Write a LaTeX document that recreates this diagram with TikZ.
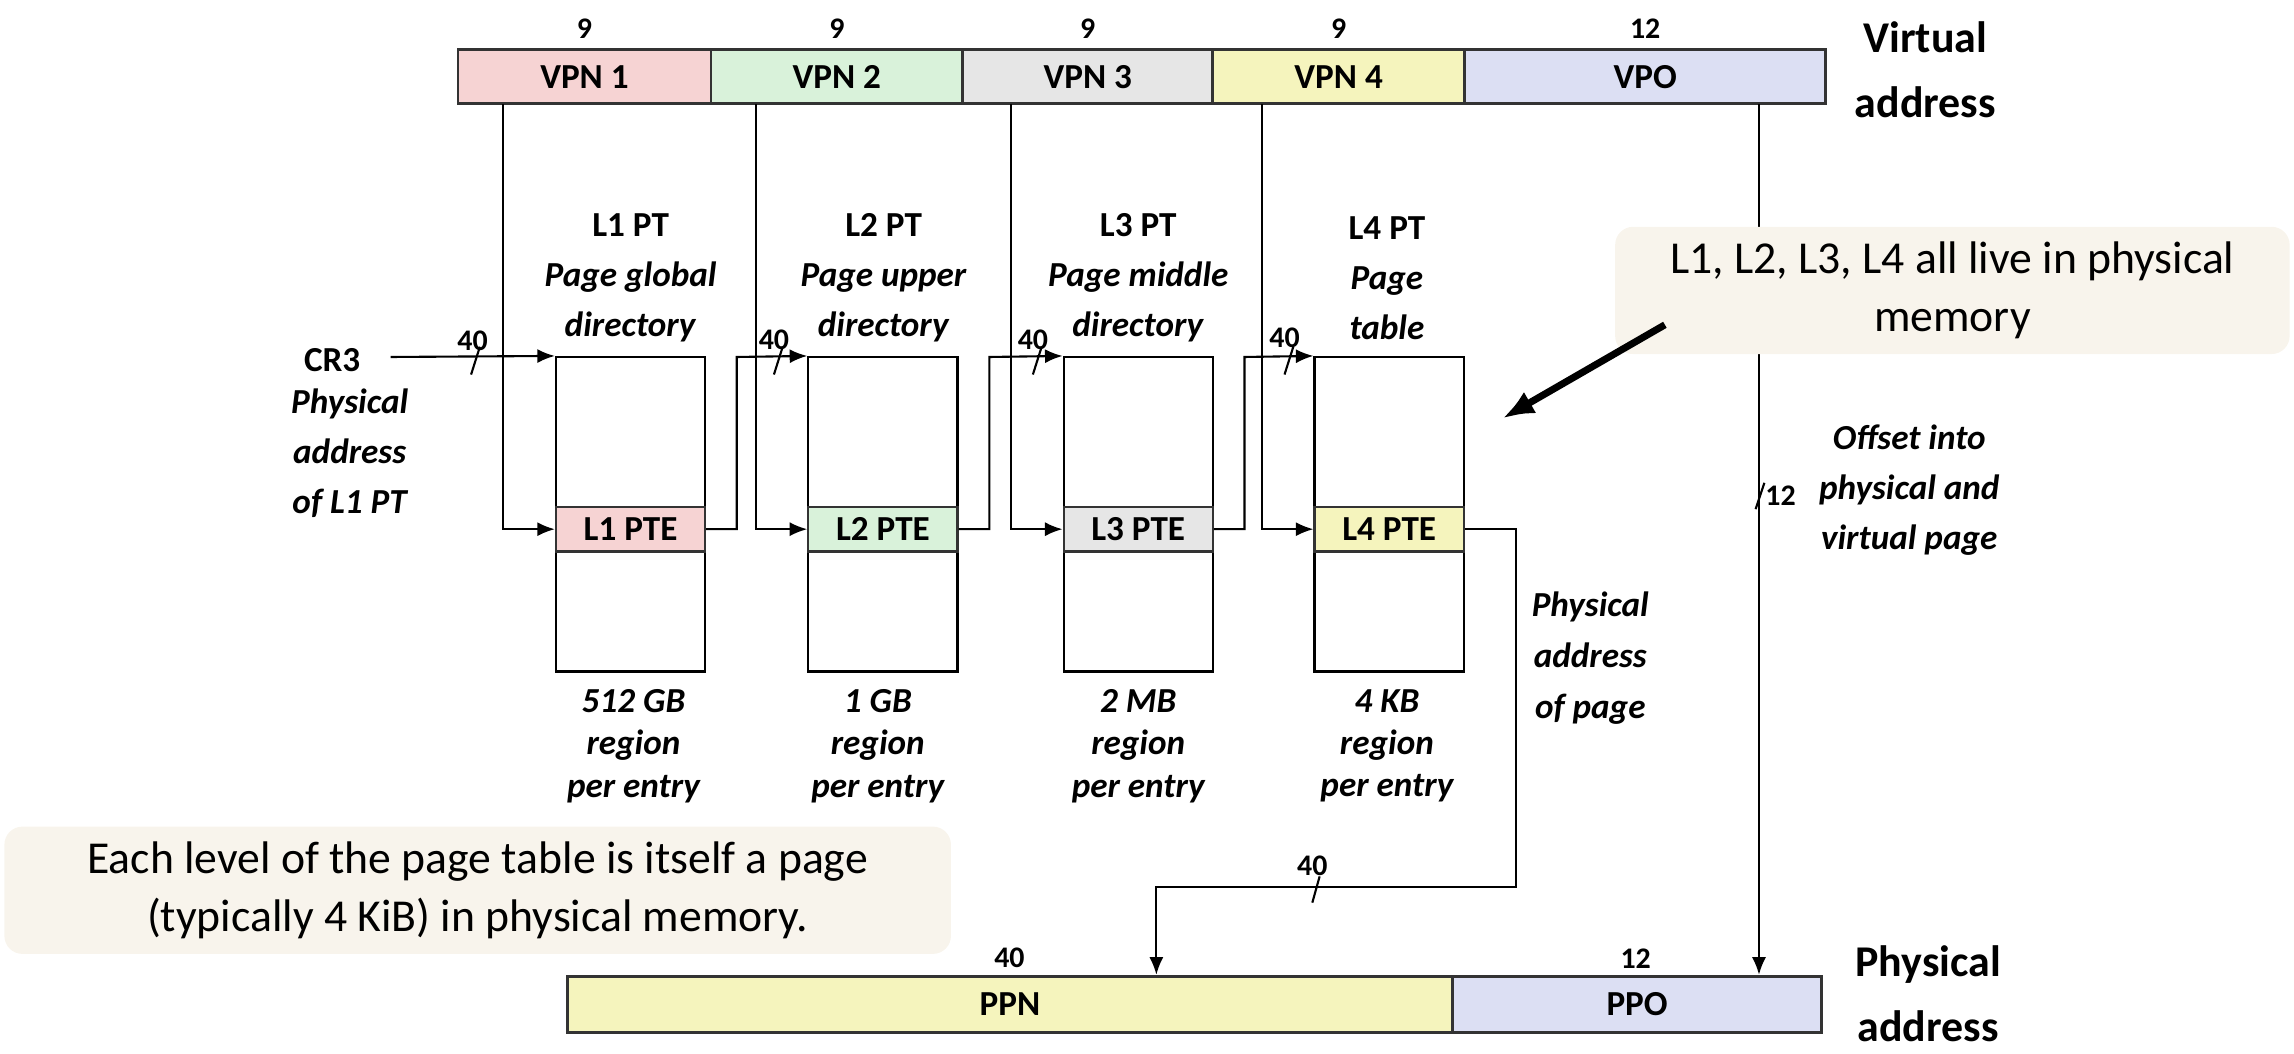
\documentclass[tikz,border=0pt]{standalone}
\usepackage{fontspec}
\setmainfont{Carlito}
\usepackage{tikz}
\usetikzlibrary{calc}
\usetikzlibrary{arrows.meta}
\usetikzlibrary{positioning}

\newlength{\pxu}
\setlength{\pxu}{0.1463mm}

\definecolor{pinkfill}{HTML}{F6D3D3}
\definecolor{greenfill}{HTML}{D9F2DA}
\definecolor{grayfill}{HTML}{E6E6E6}
\definecolor{yellowfill}{HTML}{F5F4BD}
\definecolor{bluefill}{HTML}{DCDFF3}
\definecolor{notefill}{HTML}{F8F4EC}

\tikzset{
 field/.style={rectangle, draw=black!80, line width=0.8pt, inner sep=0pt, minimum height=37\pxu, font=\fontsize{10}{12}\selectfont\bfseries},
 table/.style={rectangle, draw=black, line width=0.6pt, inner sep=0pt, minimum width=102\pxu, minimum height=215\pxu},
 pte/.style={rectangle, draw=black!80, line width=0.6pt, inner sep=0pt, minimum width=102\pxu, minimum height=30.5\pxu, font=\fontsize{10}{12}\selectfont\bfseries},
 bits/.style={inner sep=0pt, font=\fontsize{8.5}{10}\selectfont\bfseries},
 lbl/.style={inner sep=0pt, align=center, font=\fontsize{10}{14.2}\selectfont\bfseries},
 region/.style={inner sep=0pt, align=center, font=\fontsize{10}{12}\selectfont\bfseries\itshape},
 title/.style={inner sep=0pt, align=center, font=\fontsize{12.5}{18.5}\selectfont\bfseries},
 note/.style={rectangle, rounded corners=1.8mm, fill=notefill, inner sep=0pt, align=center, font=\fontsize{13}{16.6}\selectfont},
 wire/.style={line width=0.6pt},
 tip/.style={-{Latex[length=5pt, width=4pt]}},
}

\begin{document}
\begin{tikzpicture}[x=0.1463mm, y=-0.1463mm]
 \useasboundingbox (0,0) rectangle (1568,720);

 % virtual address
 \node [field, fill=pinkfill, minimum width=173\pxu] (vpn1) at (399.5, 52.5) {VPN 1};
 \node [field, fill=greenfill, minimum width=172\pxu] (vpn2) at (572, 52.5) {VPN 2};
 \node [field, fill=grayfill, minimum width=171\pxu] (vpn3) at (743.5, 52.5) {VPN 3};
 \node [field, fill=yellowfill, minimum width=172\pxu] (vpn4) at (915, 52.5) {VPN 4};
 \node [field, fill=bluefill, minimum width=247\pxu] (vpo) at (1124.5, 52.5) {VPO};
 \node [bits] (b1) at (399.5, 19.5) {9};
 \node [bits] (b2) at (572, 19.5) {9};
 \node [bits] (b3) at (743.5, 19.5) {9};
 \node [bits] (b4) at (915, 19.5) {9};
 \node [bits] (b5) at (1124.5, 19.5) {12};
 \node [title] (vaddr) at (1316, 48) {Virtual\\address};

 % page tables
 \node [table] (pt1) at (431, 351.5) {};
 \node [table] (pt2) at (603.5, 351.5) {};
 \node [table] (pt3) at (778, 351.5) {};
 \node [table] (pt4) at (949.5, 351.5) {};
 \node [pte, fill=pinkfill] (pte1) at (431, 361.7) {L1 PTE};
 \node [pte, fill=greenfill] (pte2) at (603.5, 361.7) {L2 PTE};
 \node [pte, fill=grayfill] (pte3) at (778, 361.7) {L3 PTE};
 \node [pte, fill=yellowfill] (pte4) at (949.5, 361.7) {L4 PTE};

 \node [lbl] (h1) at (431, 190) {L1 PT\\\textit{Page global}\\\textit{directory}};
 \node [lbl] (h2) at (604, 190) {L2 PT\\\textit{Page upper}\\\textit{directory}};
 \node [lbl] (h3) at (778, 190) {L3 PT\\\textit{Page middle}\\\textit{directory}};
 \node [lbl] (h4) at (948, 190) {L4 PT\\\textit{Page}\\\textit{table}};

 \node [region] (r1) at (433, 510) {512 GB\\region\\per entry};
 \node [region] (r2) at (600, 510) {1 GB\\region\\per entry};
 \node [region] (r3) at (778, 510) {2 MB\\region\\per entry};
 \node [region] (r4) at (948, 510) {4 KB\\region\\per entry};

 \node [lbl] (cr3) at (227, 246) {CR3};
 \node [lbl, font=\fontsize{10}{14.2}\selectfont\bfseries\itshape] (pa1) at (239, 310) {Physical\\address\\of L1 PT};
 \node [lbl, font=\fontsize{10}{14.5}\selectfont\bfseries\itshape] (pa2) at (1087, 450) {Physical\\address\\of page};
 \node [lbl, font=\fontsize{10}{14.2}\selectfont\bfseries\itshape] (off) at (1305, 335) {Offset into\\physical and\\virtual page};

 % physical address
 \node [field, fill=yellowfill, minimum width=605.3\pxu, minimum height=38.5\pxu] (ppn) at (690.3, 686.5) {PPN};
 \node [field, fill=bluefill, minimum width=252\pxu, minimum height=38.5\pxu] (ppo) at (1119, 686.5) {PPO};
 \node [bits] (b6) at (690, 655) {40};
 \node [bits] (b7) at (1118, 655) {12};
 \node [title] (paddr) at (1318, 679) {Physical\\address};

 % connectors
 \coordinate (c0) at (267, 244);
 \coordinate (v1) at (344, 71);
 \coordinate (v2) at (517, 71);
 \coordinate (v3) at (691, 71);
 \coordinate (v4) at (862.5, 71);
 \coordinate (v5) at (1202.3, 71);
 \coordinate (j1) at (503.6, 244);
 \coordinate (j2) at (676.3, 244);
 \coordinate (j3) at (850.6, 244);
 \coordinate (j4) at (1036.5, 606);
 \coordinate (p1) at (790.4, 606);

 \draw [wire, tip] (c0) -- (pt1.north west);
 \draw [wire, tip] (v1) |- (pte1.west);
 \draw [wire, tip] (v2) |- (pte2.west);
 \draw [wire, tip] (v3) |- (pte3.west);
 \draw [wire, tip] (v4) |- (pte4.west);
 \draw [wire, tip] (pte1.east) -| (j1) -- (pt2.north west);
 \draw [wire, tip] (pte2.east) -| (j2) -- (pt3.north west);
 \draw [wire, tip] (pte3.east) -| (j3) -- (pt4.north west);
 \draw [wire, tip] (pte4.east) -| (j4) -- (p1) -- (p1 |- ppn.north);
 \draw [wire, tip] (v5) -- (v5 |- ppo.north);

 % width marks
 \draw [wire] (328, 237) -- (322, 256);
 \draw [wire] (535, 237) -- (529, 256);
 \draw [wire] (712, 237) -- (706, 256);
 \draw [wire] (884, 237) -- (878, 256);
 \draw [wire] (902, 599) -- (897, 617);
 \draw [wire] (1206, 330) -- (1200, 348);
 \node [bits] (w1) at (323, 233) {40};
 \node [bits] (w2) at (529, 232) {40};
 \node [bits] (w3) at (706, 232) {40};
 \node [bits] (w4) at (878, 231) {40};
 \node [bits] (w5) at (897, 592) {40};
 \node [bits] (w6) at (1217, 339) {12};

 % notes
 \node [note, minimum width=461\pxu, minimum height=87\pxu] (mem) at (1334.5, 198.5) {L1, L2, L3, L4 all live in physical\\memory};
 \node [note, minimum width=647\pxu, minimum height=87\pxu] (lvl) at (326.5, 608.5) {Each level of the page table is itself a page\\(typically 4 KiB) in physical memory.};
 \coordinate (a0) at (1138, 222);
 \coordinate (a1) at (1027, 286);
 \draw [line width=2pt, -{Latex[length=9pt, width=7pt]}] (a0) -- (a1);
\end{tikzpicture}
\end{document}
